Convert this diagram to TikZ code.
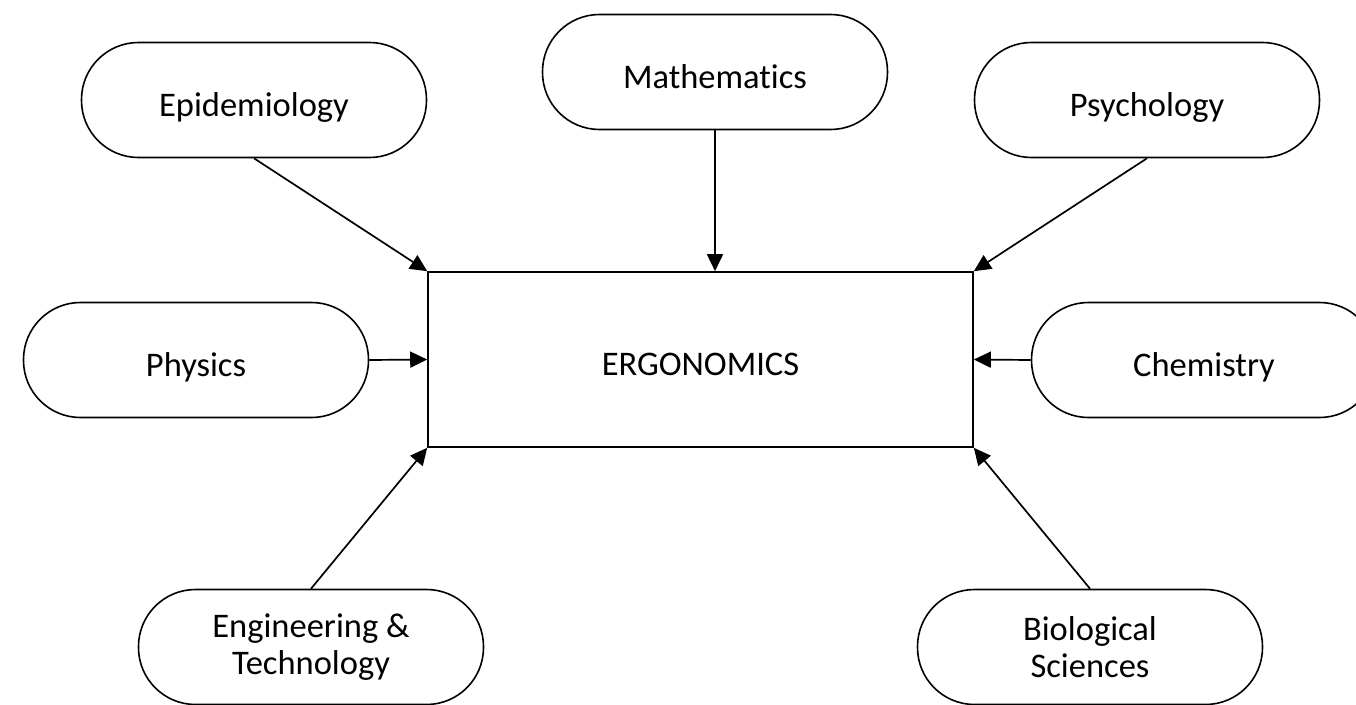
\documentclass[tikz,border=0pt]{standalone}
\usepackage{fontspec}
\setmainfont[Ligatures=NoCommon]{Carlito}
\usetikzlibrary{arrows.meta}
\begin{document}
\begin{tikzpicture}[x=1pt,y=-1pt,
  every node/.style={font=\fontsize{34.5}{36.5}\selectfont},
  one/.style={text height=36pt, text depth=4pt},
  two/.style={align=center},
  pill/.style={draw, line width=1.6pt, rounded corners=57pt, minimum width=345pt, minimum height=115pt, inner sep=0pt},
  core/.style={draw, line width=1.6pt, minimum width=545pt, minimum height=175pt, inner sep=0pt},
  link/.style={line width=1.7pt, -{Triangle[length=17pt,width=16pt]}}]
\useasboundingbox (0,0) rectangle (1356,704);
\node[core, one] (erg) at (700.5,359.5) {ERGONOMICS};
\node[pill, one] (epi) at (254,100) {Epidemiology};
\node[pill, one] (math) at (715,72) {Mathematics};
\node[pill, one] (psy) at (1147,100) {Psychology};
\node[pill, one] (phys) at (196,360) {Physics};
\node[pill, one] (chem) at (1204,360) {Chemistry};
\node[pill, two] (eng) at (311,647) {Engineering \&\\Technology};
\node[pill, two] (bio) at (1090,647) {Biological\\Sciences};
\draw[link] (epi.south) -- (erg.north west);
\draw[link] (math.south) -- (math.south |- erg.north);
\draw[link] (psy.south) -- (erg.north east);
\draw[link] (phys.east) -- (erg.west);
\draw[link] (chem.west) -- (erg.east);
\draw[link] (eng.north) -- (erg.south west);
\draw[link] (bio.north) -- (erg.south east);
\end{tikzpicture}
\end{document}
